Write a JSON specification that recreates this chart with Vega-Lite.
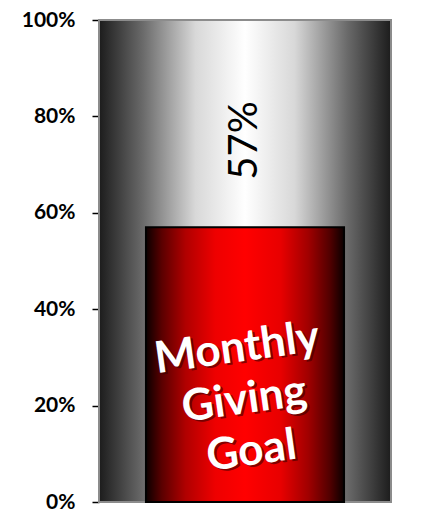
{
  "$schema": "https://vega.github.io/schema/vega-lite/v6.json",
  "autosize": "none",
  "width": 292,
  "height": 482,
  "padding": {"left": 99, "top": 20, "right": 46, "bottom": 21},
  "background": "white",
  "config": {"view": {"stroke": null}, "font": "Lato"},
  "data": {"values": [{"goal": "Monthly Giving Goal", "label": "Monthly\nGiving\nGoal", "value": 0.57, "max": 1}]},
  "resolve": {"scale": {"x": "independent"}},
  "layer": [
    {
      "mark": {"type": "bar", "stroke": "#8c8c8c", "strokeWidth": 2,
        "fill": {"gradient": "linear", "x1": 0, "x2": 1, "y1": 0, "y2": 0, "stops": [
          {"offset": 0, "color": "#1c1c1c"},
          {"offset": 0.15, "color": "#6a6a6a"},
          {"offset": 0.33, "color": "#d8d8d8"},
          {"offset": 0.5, "color": "#ffffff"},
          {"offset": 0.67, "color": "#d8d8d8"},
          {"offset": 0.85, "color": "#6a6a6a"},
          {"offset": 1, "color": "#1c1c1c"}]}},
      "encoding": {
        "x": {"field": "goal", "type": "nominal", "axis": null, "scale": {"paddingInner": 0, "paddingOuter": 0}},
        "y": {"field": "max", "type": "quantitative", "scale": {"domain": [0, 1], "nice": false},
          "axis": {"format": ".0%", "values": [0, 0.2, 0.4, 0.6, 0.8, 1], "grid": false, "title": null,
            "domainColor": "#000", "domainWidth": 1.5, "tickColor": "#000", "tickWidth": 1.5, "tickSize": 7,
            "labelFontSize": 21, "labelFontWeight": "bold", "labelColor": "#000", "labelPadding": 17, "labelFont": "Lato"}}
      }
    },
    {
      "mark": {"type": "bar", "stroke": "#000", "strokeWidth": 2,
        "fill": {"gradient": "linear", "x1": 0, "x2": 1, "y1": 0, "y2": 0, "stops": [
          {"offset": 0, "color": "#0a0000"},
          {"offset": 0.08, "color": "#5a0000"},
          {"offset": 0.2, "color": "#b00000"},
          {"offset": 0.35, "color": "#ee0000"},
          {"offset": 0.5, "color": "#ff0000"},
          {"offset": 0.68, "color": "#e80000"},
          {"offset": 0.82, "color": "#a00000"},
          {"offset": 0.93, "color": "#500000"},
          {"offset": 1, "color": "#0a0000"}]}},
      "encoding": {
        "x": {"field": "goal", "type": "nominal", "axis": null, "scale": {"paddingInner": 0, "paddingOuter": 0.237}},
        "y": {"field": "value", "type": "quantitative"}
      }
    },
    {
      "mark": {"type": "text", "angle": 270, "fontSize": 40, "font": "Lato", "color": "#000", "align": "center", "baseline": "middle"},
      "encoding": {
        "y": {"datum": 0.75},
        "text": {"field": "value", "type": "quantitative", "format": ".0%"}
      }
    },
    {
      "mark": {"type": "text", "angle": -8, "fontSize": 44, "fontWeight": "bold", "font": "Lato", "color": "#3a0000", "opacity": 0.6, "align": "center", "baseline": "middle", "lineBreak": "\n", "lineHeight": 52, "dx": -6, "dy": 2},
      "encoding": {
        "y": {"datum": 0.32},
        "text": {"field": "label"}
      }
    },
    {
      "mark": {"type": "text", "angle": -8, "fontSize": 44, "fontWeight": "bold", "font": "Lato", "color": "#ffffff", "align": "center", "baseline": "middle", "lineBreak": "\n", "lineHeight": 52, "dx": -8},
      "encoding": {
        "y": {"datum": 0.32},
        "text": {"field": "label"}
      }
    }
  ]
}
